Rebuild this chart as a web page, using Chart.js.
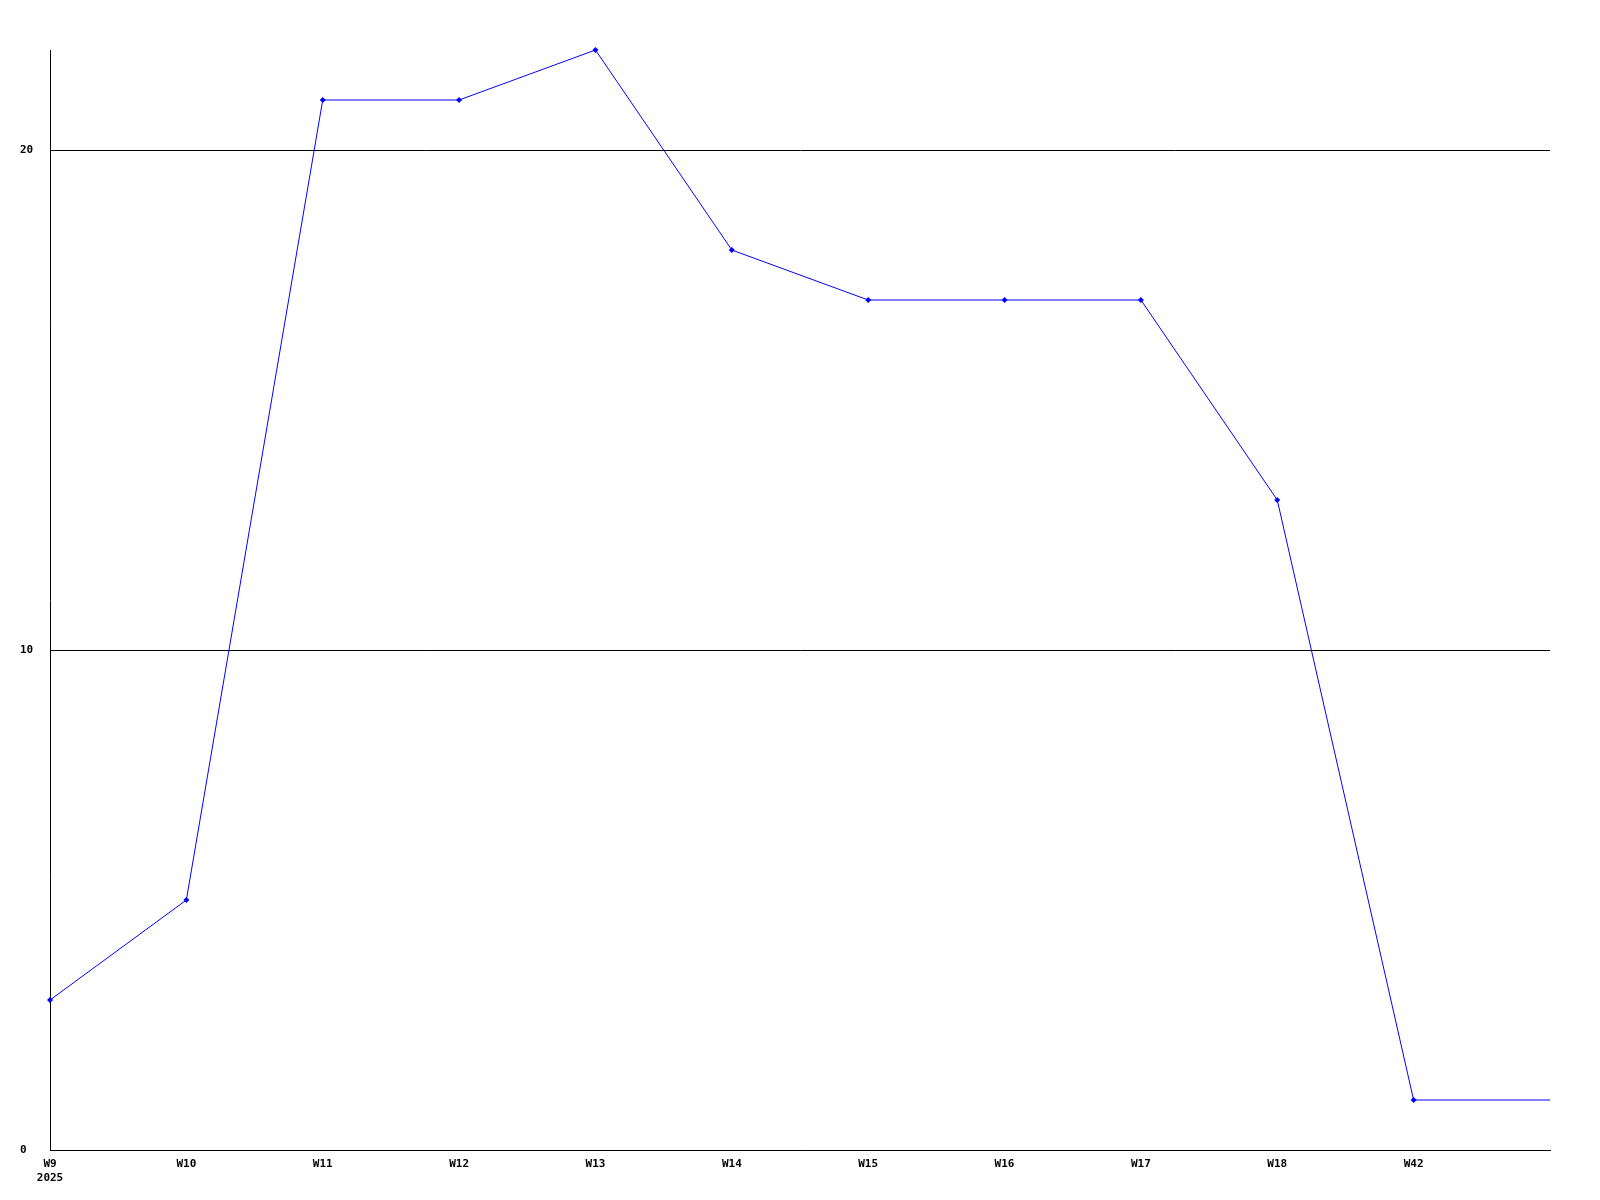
<!DOCTYPE html>
<html>
<head>
<meta charset="utf-8">
<script src="https://cdn.jsdelivr.net/npm/chart.js@4/dist/chart.umd.min.js"></script>
<style>
  html, body { margin: 0; padding: 0; background: #fff; }
  canvas { display: block; }
</style>
</head>
<body>
<canvas id="weeklyChart" width="1600" height="1200"></canvas>
<script>
// week labels (last slot has no label, the line just runs to the edge)
const weeks = [['W9', '2025'], 'W10', 'W11', 'W12', 'W13', 'W14', 'W15', 'W16', 'W17', 'W18', 'W42', ''];
const counts = [3, 5, 21, 21, 22, 18, 17, 17, 17, 13, 1, 1];
const yTicks = [0, 10, 20];
const yMax = 22;

const tickFont = { family: '"DejaVu Sans Mono", monospace', size: 11, weight: 'bold' };

const ctx = document.getElementById('weeklyChart').getContext('2d');
new Chart(ctx, {
    type: 'line',
    data: {
        labels: weeks,
        datasets: [{
            data: counts,
            borderColor: '#0000ff',
            backgroundColor: '#0000ff',
            borderWidth: 1,
            tension: 0,
            clip: false,
            pointStyle: 'rectRot',
            pointRadius: (c) => c.dataIndex === counts.length - 1 ? 0 : 3,
            pointBorderWidth: 0,
            fill: false
        }]
    },
    options: {
        responsive: false,
        animation: false,
        layout: { padding: { left: 20, top: 50, right: 50, bottom: 0 } },
        plugins: {
            legend: { display: false },
            tooltip: { enabled: false }
        },
        scales: {
            x: {
                type: 'category',
                offset: false,
                grid: { display: false, drawTicks: false },
                border: { display: true, color: '#000', width: 1 },
                ticks: {
                    color: '#000',
                    font: tickFont,
                    padding: 8,
                    maxRotation: 0,
                    autoSkip: false
                },
                afterFit: (scale) => { scale.height = 50; }
            },
            y: {
                min: 0,
                max: yMax,
                grid: { color: '#000', lineWidth: 1, drawTicks: false },
                border: { display: true, color: '#000', width: 1 },
                ticks: {
                    color: '#000',
                    font: tickFont,
                    crossAlign: 'far',
                    padding: 0
                },
                afterBuildTicks: (scale) => {
                    scale.ticks = yTicks.map(v => ({ value: v }));
                },
                afterFit: (scale) => { scale.width = 30; }
            }
        }
    }
});
</script>
</body>
</html>
